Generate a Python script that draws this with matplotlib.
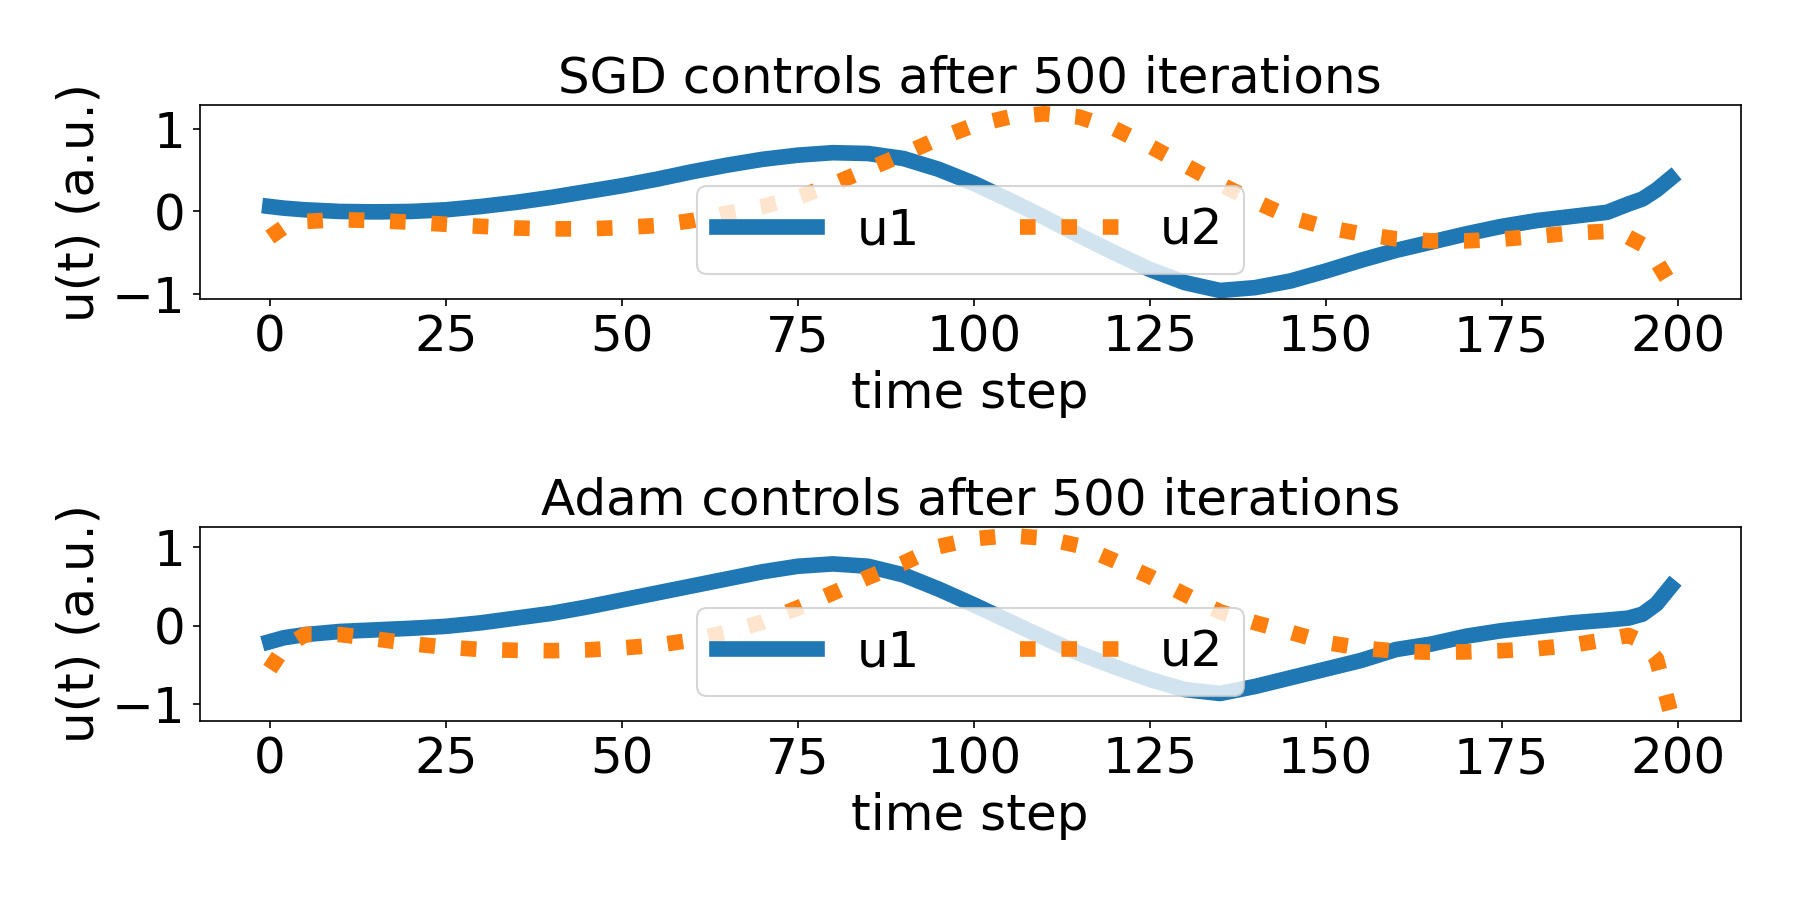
import numpy as np
import matplotlib
matplotlib.use("Agg")
import matplotlib.pyplot as plt

plt.rcParams["font.size"] = 24

t = [0, 2, 5, 10, 15, 20, 25, 30, 35, 40, 45, 50, 55, 60, 65, 70, 75, 80, 85, 90,
     95, 100, 105, 110, 115, 120, 125, 130, 135, 140, 145, 150, 155, 160, 165, 170,
     175, 180, 185, 190, 193, 195, 197, 199]

# SGD
sgd_u1 = [0.06, 0.04, 0.02, 0.0, -0.005, 0.0, 0.02, 0.06, 0.11, 0.17, 0.24, 0.31,
          0.39, 0.48, 0.56, 0.63, 0.68, 0.71, 0.70, 0.64, 0.51, 0.34, 0.14, -0.07,
          -0.29, -0.50, -0.70, -0.86, -0.955, -0.92, -0.84, -0.72, -0.59, -0.47,
          -0.37, -0.27, -0.18, -0.11, -0.06, -0.01, 0.09, 0.15, 0.26, 0.40]
sgd_u2 = [-0.31, -0.19, -0.12, -0.10, -0.11, -0.13, -0.155, -0.18, -0.20, -0.21,
          -0.21, -0.195, -0.17, -0.11, -0.02, 0.06, 0.17, 0.33, 0.51, 0.69, 0.88,
          1.04, 1.14, 1.18, 1.14, 1.00, 0.79, 0.56, 0.33, 0.12, -0.07, -0.19, -0.27,
          -0.33, -0.355, -0.355, -0.335, -0.30, -0.26, -0.24, -0.31, -0.40, -0.60,
          -0.88]

# Adam
adam_u1 = [-0.20, -0.15, -0.11, -0.07, -0.05, -0.03, -0.005, 0.04, 0.10, 0.16, 0.24,
           0.33, 0.42, 0.51, 0.60, 0.69, 0.76, 0.79, 0.76, 0.65, 0.47, 0.27, 0.06,
           -0.15, -0.35, -0.52, -0.68, -0.81, -0.86, -0.77, -0.66, -0.55, -0.44,
           -0.30, -0.23, -0.13, -0.06, -0.01, 0.04, 0.075, 0.10, 0.15, 0.28, 0.50]
adam_u2 = [-0.55, -0.28, -0.11, -0.11, -0.165, -0.225, -0.27, -0.30, -0.31, -0.315,
           -0.305, -0.28, -0.245, -0.18, -0.08, 0.05, 0.23, 0.42, 0.62, 0.80, 1.01,
           1.11, 1.15, 1.12, 1.02, 0.83, 0.63, 0.40, 0.18, 0.04, -0.08, -0.21, -0.28,
           -0.32, -0.335, -0.33, -0.315, -0.29, -0.245, -0.17, -0.12, -0.20, -0.42,
           -1.10]

runs = [("SGD", sgd_u1, sgd_u2), ("Adam", adam_u1, adam_u2)]

fig, axes = plt.subplots(2, 1, figsize=(12, 5.98), dpi=150)
fig.subplots_adjust(left=0.111, right=0.967, top=0.883, bottom=0.196, hspace=1.17)

for ax, (name, u1, u2) in zip(axes, runs):
    ax.plot(t, u1, lw=7.5, label="u1")
    ax.plot(t, u2, ":", lw=7.5, label="u2")
    ax.set_title(name + " controls after 500 iterations", fontsize=24)
    ax.set_xlabel("time step")
    ax.set_ylabel("u(t) (a.u.)")
    ax.legend(loc="lower center", ncol=2)

fig.savefig("out.png")
